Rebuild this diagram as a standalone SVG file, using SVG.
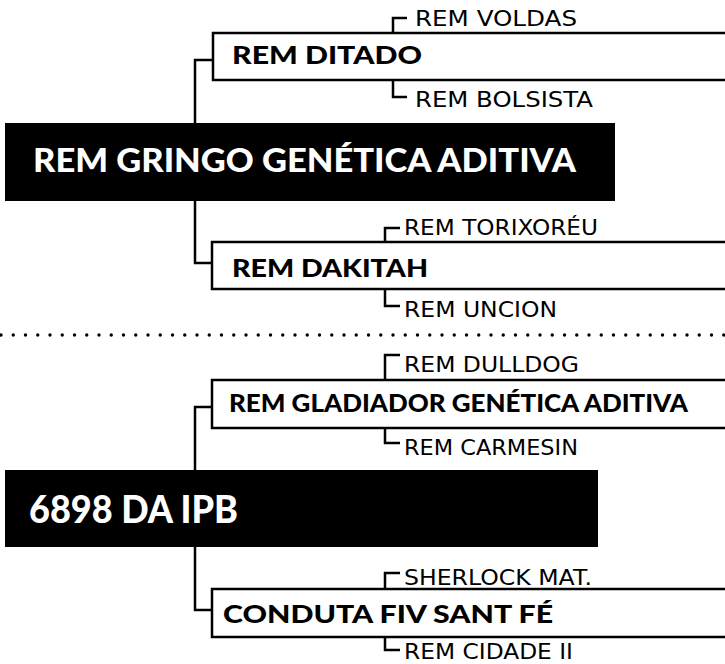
<svg xmlns="http://www.w3.org/2000/svg" width="725" height="664" viewBox="0 0 725 664">
<style>
  .bg { fill: #ffffff; }
  .box { fill: #ffffff; stroke: #000000; stroke-width: 2.5; }
  .root { fill: #000000; }
  .ln { fill: none; stroke: #000000; stroke-width: 2.5; stroke-linejoin: miter; stroke-linecap: butt; }
  .dots { fill: none; stroke: #000000; stroke-width: 3.4; stroke-linecap: round; stroke-dasharray: 0 12.25; }
  .rootTxt { font-family: "Lato", "DejaVu Sans", sans-serif; font-weight: 900; fill: #ffffff; }
  .main { font-family: "Lato", "DejaVu Sans", sans-serif; font-weight: 900; font-size: 24px; fill: #000000; }
  .sub { font-family: "DejaVu Sans", "Liberation Sans", sans-serif; font-weight: normal; font-size: 21px; fill: #000000; }
</style>
<rect class="bg" x="0" y="0" width="725" height="664"/>

<g id="connectors">
  <path class="ln" d="M195,123 V60 H213"/>
  <path class="ln" d="M195,201 V263 H212"/>
  <path class="ln" d="M393,33 V18 H407"/>
  <path class="ln" d="M393,80 V97 H407"/>
  <path class="ln" d="M385,242 V228 H400"/>
  <path class="ln" d="M385,289 V306 H400"/>
  <path class="ln" d="M195,470 V407 H212"/>
  <path class="ln" d="M195,547 V610 H212"/>
  <path class="ln" d="M385,380 V355 H400"/>
  <path class="ln" d="M385,428 V443 H400"/>
  <path class="ln" d="M385,589 V573 H400"/>
  <path class="ln" d="M385,637 V650 H400"/>
</g>

<path id="separator" class="dots" d="M1,335 H725"/>

<g id="node-gringo">
  <rect class="root" x="5" y="123" width="610" height="78"/>
  <text class="rootTxt" x="33" y="172" font-size="33" textLength="543" lengthAdjust="spacingAndGlyphs">REM GRINGO GENÉTICA ADITIVA</text>
</g>

<g id="node-ditado">
  <rect class="box" x="213" y="33" width="520" height="47"/>
  <text class="main" x="232" y="64" textLength="190" lengthAdjust="spacingAndGlyphs">REM DITADO</text>
</g>
<g id="node-voldas">
  <text class="sub" x="415" y="26" textLength="162" lengthAdjust="spacingAndGlyphs">REM VOLDAS</text>
</g>
<g id="node-bolsista">
  <text class="sub" x="415" y="107" textLength="178" lengthAdjust="spacingAndGlyphs">REM BOLSISTA</text>
</g>

<g id="node-dakitah">
  <rect class="box" x="212" y="242" width="520" height="47"/>
  <text class="main" x="232" y="277" textLength="196" lengthAdjust="spacingAndGlyphs">REM DAKITAH</text>
</g>
<g id="node-torixoreu">
  <text class="sub" x="404" y="235" textLength="194" lengthAdjust="spacingAndGlyphs">REM TORIXORÉU</text>
</g>
<g id="node-uncion">
  <text class="sub" x="404" y="317" textLength="153" lengthAdjust="spacingAndGlyphs">REM UNCION</text>
</g>

<g id="node-6898">
  <rect class="root" x="5" y="470" width="593" height="77"/>
  <text class="rootTxt" x="29" y="523" font-size="37" textLength="209" lengthAdjust="spacingAndGlyphs">6898 DA IPB</text>
</g>

<g id="node-gladiador">
  <rect class="box" x="212" y="380" width="520" height="48"/>
  <text class="main" x="229" y="412" textLength="459" lengthAdjust="spacingAndGlyphs">REM GLADIADOR GENÉTICA ADITIVA</text>
</g>
<g id="node-dulldog">
  <text class="sub" x="404" y="372" textLength="175" lengthAdjust="spacingAndGlyphs">REM DULLDOG</text>
</g>
<g id="node-carmesin">
  <text class="sub" x="404" y="455" textLength="174" lengthAdjust="spacingAndGlyphs">REM CARMESIN</text>
</g>

<g id="node-conduta">
  <rect class="box" x="212" y="589" width="520" height="48"/>
  <text class="main" x="223" y="623" textLength="330" lengthAdjust="spacingAndGlyphs">CONDUTA FIV SANT FÉ</text>
</g>
<g id="node-sherlock">
  <text class="sub" x="404" y="585" textLength="188" lengthAdjust="spacingAndGlyphs">SHERLOCK MAT.</text>
</g>
<g id="node-cidade">
  <text class="sub" x="404" y="659" font-size="20" textLength="169" lengthAdjust="spacingAndGlyphs">REM CIDADE II</text>
</g>
</svg>
